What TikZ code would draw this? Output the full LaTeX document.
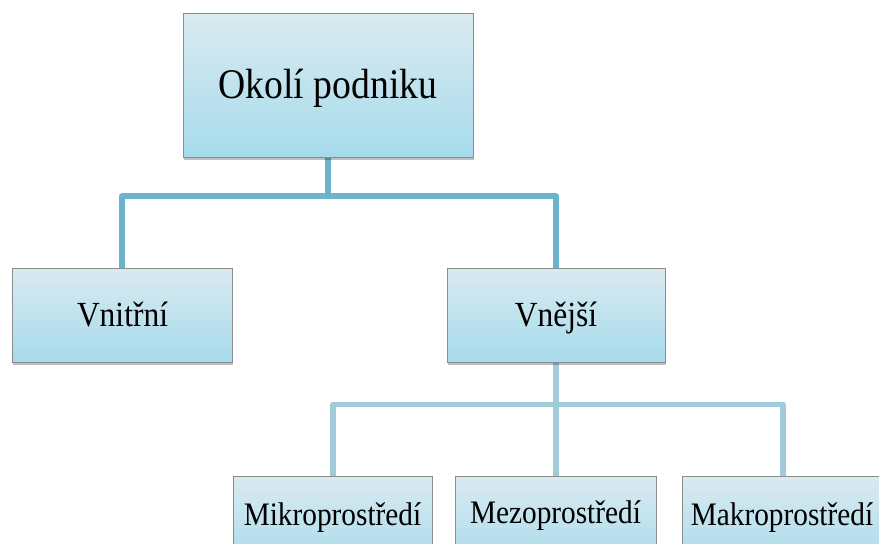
\documentclass[tikz,border=0pt]{standalone}
\usepackage{fontspec}
\setmainfont{Liberation Serif}
\usetikzlibrary{shadows}
\definecolor{boxtop}{RGB}{218,234,240}
\definecolor{boxbot}{RGB}{166,219,236}
\definecolor{boxedge}{RGB}{140,140,140}
\definecolor{linkA}{RGB}{108,180,204}
\definecolor{linkB}{RGB}{162,203,218}
\newcommand{\tall}[1]{\scalebox{1}[1.12]{#1}}
\tikzset{
  box/.style={draw=boxedge, line width=0.9pt, top color=boxtop, bottom color=boxbot,
    minimum width=#1, inner sep=0pt, text=black,
    drop shadow={shadow xshift=1pt, shadow yshift=-3pt, opacity=0.25, fill=black}},
  label/.style={anchor=base, inner sep=0pt, text=black},
  linkone/.style={draw=linkA, line width=5.5pt, line join=round},
  linktwo/.style={draw=linkB, line width=5.5pt, line join=round},
}
\begin{document}
\begin{tikzpicture}[x=1pt,y=1pt]
\useasboundingbox (0,0) rectangle (879,-544);
\clip (0,0) rectangle (879,-544);
% connectors first
\coordinate (j1) at (328,-196);
\coordinate (j2) at (556,-404.5);
\coordinate (topbot) at (328,-150);
\coordinate (vntop) at (122,-275);
\coordinate (vjtop) at (556,-275);
\coordinate (vjbot) at (556,-355);
\coordinate (mitop) at (333,-482);
\coordinate (metop) at (556,-482);
\coordinate (matop) at (783,-482);
\draw[linkone] (topbot) -- (j1);
\draw[linkone] (vntop) |- (j1) -| (vjtop);
\draw[linktwo] (vjbot) -- (j2);
\draw[linktwo] (mitop) |- (j2) -| (matop);
\draw[linktwo] (j2) -- (metop);
% boxes
\node[box=290pt, minimum height=144pt] (top) at (328,-85) {};
\node[box=220pt, minimum height=94pt] (vnitrni) at (122,-315) {};
\node[box=218pt, minimum height=94pt] (vnejsi) at (556,-315) {};
\node[box=199pt, minimum height=94pt] (mikro) at (332.5,-523) {};
\node[box=201pt, minimum height=94pt] (mezo) at (555.5,-523) {};
\node[box=202pt, minimum height=94pt] (makro) at (783,-523) {};
% labels
\node[label, font=\fontsize{37.7}{40}\selectfont] (topt) at (328,-98) {\tall{Okolí podniku}};
\node[label, font=\fontsize{31.5}{34}\selectfont] (vnitrnit) at (122.5,-326) {\tall{Vnitřní}};
\node[label, font=\fontsize{31.5}{34}\selectfont] (vnejsit) at (556,-326) {\tall{Vnější}};
\node[label, font=\fontsize{29.3}{32}\selectfont] (mikrot) at (332.5,-525) {\tall{Mikroprostředí}};
\node[label, font=\fontsize{29.3}{32}\selectfont] (mezot) at (555.5,-523) {\tall{Mezoprostředí}};
\node[label, font=\fontsize{29.3}{32}\selectfont] (makrot) at (782,-525) {\tall{Makroprostředí}};
\end{tikzpicture}
\end{document}
